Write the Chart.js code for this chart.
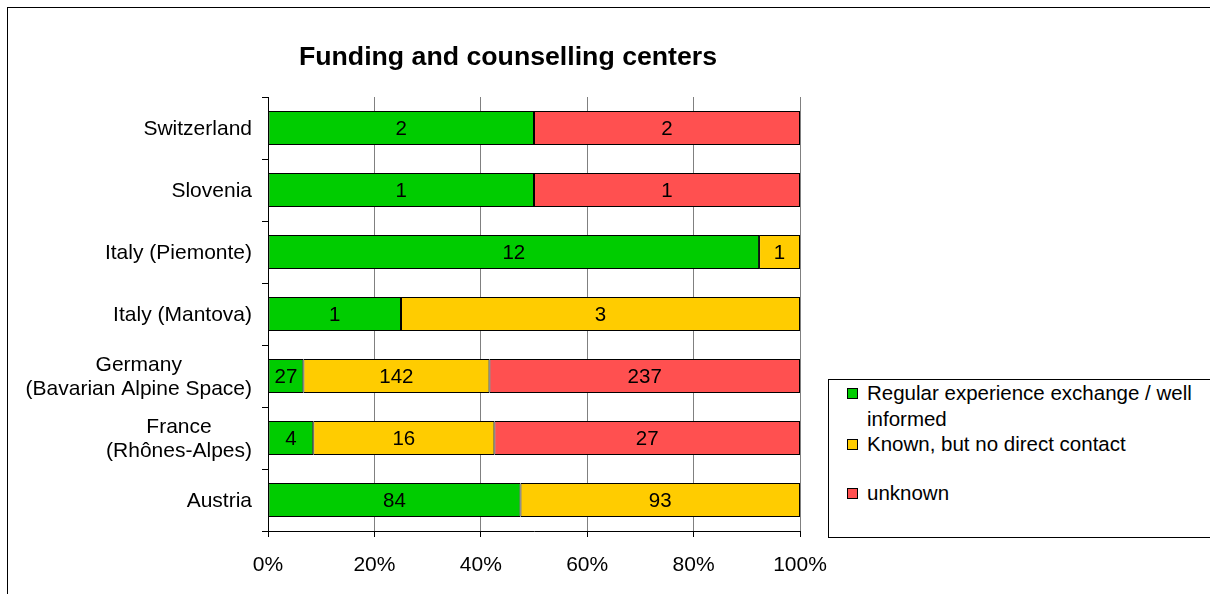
<!DOCTYPE html>
<html>
<head>
<meta charset="utf-8">
<script src="https://cdn.jsdelivr.net/npm/chart.js@4/dist/chart.umd.min.js"></script>
<style>
  html, body { margin: 0; padding: 0; background: #fff; overflow: hidden; }
  #wrap { position: relative; width: 1210px; height: 594px; }
  #frame { position: absolute; left: 7px; top: 7px; width: 1300px; height: 700px; border: 1px solid #000; }
  #legend {
    position: absolute; left: 828px; top: 379px; width: 400px; height: 157px;
    border: 1px solid #000; background: #fff;
    font-family: "Liberation Sans", Arial, sans-serif; font-size: 20.5px; color: #000;
  }
  .item { position: absolute; left: 18px; line-height: 26px; padding-left: 20px; width: 345px; }
  .sw { position: absolute; left: 0; top: 8px; width: 9px; height: 9px; border: 1px solid #000; }
</style>
</head>
<body>
<div id="wrap">
  <div id="frame"></div>
  <canvas id="chart" width="1210" height="594"></canvas>
  <div id="legend"></div>
</div>
<script>
const categories = [
  ["Switzerland"],
  ["Slovenia"],
  ["Italy (Piemonte)"],
  ["Italy (Mantova)"],
  ["Germany", "(Bavarian Alpine Space)"],
  ["France", "(Rhônes-Alpes)"],
  ["Austria"]
];
const seriesNames = ["Regular experience exchange / well informed", "Known, but no direct contact", "unknown"];
const wellInformed = [2, 1, 12, 1, 27, 4, 84];
const knownNoContact = [0, 0, 1, 3, 142, 16, 93];
const unknown = [2, 1, 0, 0, 237, 27, 0];
const xTicks = [0, 20, 40, 60, 80, 100];
const colors = ["#00CC00", "#FFCC00", "#FF5050"];

const counts = [wellInformed, knownNoContact, unknown];
const totals = categories.map((c, i) => wellInformed[i] + knownNoContact[i] + unknown[i]);
const FONT = '"Liberation Sans", Arial, sans-serif';

// legend
const legend = document.getElementById('legend');
const legendTops = [0, 51, 100];
seriesNames.forEach((name, i) => {
  const d = document.createElement('div');
  d.className = 'item';
  d.style.top = legendTops[i] + 'px';
  d.innerHTML = '<span class="sw" style="background:' + colors[i] + '"></span>' + name;
  legend.appendChild(d);
});

// value labels centered on each segment
const valueLabels = {
  id: 'valueLabels',
  afterDatasetsDraw(chart) {
    const ctx = chart.ctx;
    ctx.save();
    ctx.font = '20.5px ' + FONT;
    ctx.fillStyle = '#000';
    ctx.textAlign = 'center';
    ctx.textBaseline = 'middle';
    chart.data.datasets.forEach((ds, di) => {
      chart.getDatasetMeta(di).data.forEach((bar, i) => {
        const v = counts[di][i];
        if (!v) return;
        const p = bar.getCenterPoint();
        ctx.fillText(v, p.x, p.y + 1);
      });
    });
    ctx.restore();
  }
};

// category labels: block right aligned, lines centered inside it
const catLabels = {
  id: 'catLabels',
  afterDraw(chart) {
    const ctx = chart.ctx;
    const y = chart.scales.y;
    ctx.save();
    ctx.font = '21px ' + FONT;
    ctx.fillStyle = '#000';
    ctx.textAlign = 'center';
    ctx.textBaseline = 'middle';
    const right = y.right - 16;
    categories.forEach((lines, i) => {
      const w = Math.max(...lines.map(l => ctx.measureText(l).width));
      const cy = y.getPixelForValue(i);
      const lh = 24;
      lines.forEach((l, k) => {
        ctx.fillText(l, right - w / 2, cy + 1 + (k - (lines.length - 1) / 2) * lh);
      });
    });
    ctx.restore();
  }
};

const titlePlugin = {
  id: 'titlePlugin',
  afterDraw(chart) {
    const ctx = chart.ctx;
    ctx.save();
    ctx.font = 'bold 26.7px ' + FONT;
    ctx.fillStyle = '#000';
    ctx.textAlign = 'center';
    ctx.textBaseline = 'middle';
    ctx.fillText('Funding and counselling centers', chart.chartArea.left + 240, 58);
    ctx.restore();
  }
};

new Chart(document.getElementById('chart'), {
  type: 'bar',
  data: {
    labels: categories,
    datasets: counts.map((arr, di) => ({
      label: seriesNames[di],
      data: arr.map((v, i) => v / totals[i] * 100),
      backgroundColor: colors[di],
      borderColor: '#000',
      borderWidth: 1,
      borderSkipped: false,
      categoryPercentage: 1,
      barPercentage: 0.55
    }))
  },
  options: {
    indexAxis: 'y',
    responsive: false,
    animation: false,
    layout: { padding: { left: 0, top: 97, right: 410, bottom: 0 } },
    plugins: { legend: { display: false }, title: { display: false }, tooltip: { enabled: false } },
    scales: {
      x: {
        stacked: true,
        min: 0,
        max: 100,
        afterBuildTicks: s => { s.ticks = xTicks.map(v => ({ value: v })); },
        afterFit: s => { s.height = 63; },
        ticks: { callback: v => v + '%', color: '#000', font: { family: FONT, size: 21 }, padding: 16, maxRotation: 0 },
        grid: { color: '#808080', lineWidth: 1, tickLength: 6, tickColor: '#000' },
        border: { color: '#000', width: 1 }
      },
      y: {
        stacked: true,
        afterFit: s => { s.width = 268; },
        ticks: { display: false },
        grid: { drawOnChartArea: false, tickLength: 6, color: '#000', offset: true },
        border: { color: '#000', width: 1 }
      }
    }
  },
  plugins: [valueLabels, catLabels, titlePlugin]
});
</script>
</body>
</html>
